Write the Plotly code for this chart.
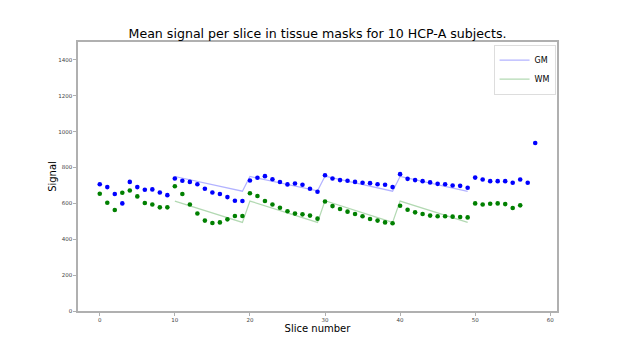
import plotly.graph_objects as go

# Slice indices
gm_x = list(range(0, 59))
wm_x = list(range(0, 57))

# Mean GM signal per slice (blue dots)
gm_vals = [707, 691, 652, 600, 720, 691, 676, 678, 661, 646,
           739, 726, 720, 707, 682, 661, 652, 635, 615, 613,
           728, 743, 752, 735, 719, 706, 711, 704, 682, 665,
           757, 739, 730, 726, 720, 715, 713, 707, 704, 691,
           763, 737, 730, 724, 717, 709, 707, 700, 698, 687,
           744, 733, 724, 724, 724, 715, 733, 715, 937]

# Mean WM signal per slice (green dots)
wm_vals = [654, 604, 563, 659, 672, 639, 602, 594, 578, 578,
           696, 652, 594, 544, 504, 491, 494, 511, 530, 530,
           657, 641, 613, 594, 576, 556, 543, 539, 532, 515,
           611, 585, 569, 554, 541, 528, 513, 504, 494, 489,
           587, 565, 550, 541, 532, 528, 528, 526, 524, 522,
           600, 594, 598, 600, 596, 574, 589]

# Fitted lines (vertices)
fit_x = [10, 19, 20, 29, 30, 39, 40, 49]
gm_fit = [750, 668, 750, 670, 752, 668, 750, 667]
wm_fit = [613, 494, 613, 494, 615, 494, 613, 494]

x_ticks = [0, 10, 20, 30, 40, 50, 60]
y_ticks = [0, 200, 400, 600, 800, 1000, 1200, 1400]

FONT = "DejaVu Sans"

fig = go.Figure()
fig.add_trace(go.Scatter(x=fit_x, y=gm_fit, mode="lines", name="GM",
                         line=dict(color="rgba(0,0,255,0.3)", width=1.2)))
fig.add_trace(go.Scatter(x=fit_x, y=wm_fit, mode="lines", name="WM",
                         line=dict(color="rgba(0,128,0,0.3)", width=1.2)))
fig.add_trace(go.Scatter(x=gm_x, y=gm_vals, mode="markers", showlegend=False,
                         marker=dict(color="#0000ff", size=4.6)))
fig.add_trace(go.Scatter(x=wm_x, y=wm_vals, mode="markers", showlegend=False,
                         marker=dict(color="#008000", size=4.6)))

axis_common = dict(showgrid=False, zeroline=False, showline=True, mirror=True,
                   linecolor="#b0b0b0", linewidth=1.5, ticks="outside",
                   ticklen=3, tickcolor="#b0b0b0", tickwidth=1,
                   tickfont=dict(family=FONT, size=5.5, color="#444"))

fig.update_layout(
    width=622, height=350,
    margin=dict(l=78, r=65, t=42, b=39),
    paper_bgcolor="white", plot_bgcolor="white",
    title=dict(text="Mean signal per slice in tissue masks for 10 HCP-A subjects.",
               x=(78 + 557) / 2 / 622, xanchor="center", y=1 - 34 / 350, yanchor="middle",
               font=dict(family=FONT, size=12.6, color="black")),
    xaxis=dict(range=[-2.9, 60.9], tickvals=x_ticks,
               title=dict(text="Slice number", font=dict(family=FONT, size=10, color="black"),
                          standoff=3),
               **axis_common),
    yaxis=dict(range=[0, 1500], tickvals=y_ticks,
               title=dict(text="Signal", font=dict(family=FONT, size=10, color="black"),
                          standoff=0),
               **axis_common),
    legend=dict(x=0.997, y=0.99, xanchor="right", yanchor="top",
                bgcolor="white", bordercolor="#dddddd", borderwidth=1,
                font=dict(family=FONT, size=8, color="black"),
                itemwidth=30, tracegroupgap=0),
    showlegend=True,
)

fig.write_html("out.html", config={"displayModeBar": False},
               post_script="document.body.style.margin='0';")
